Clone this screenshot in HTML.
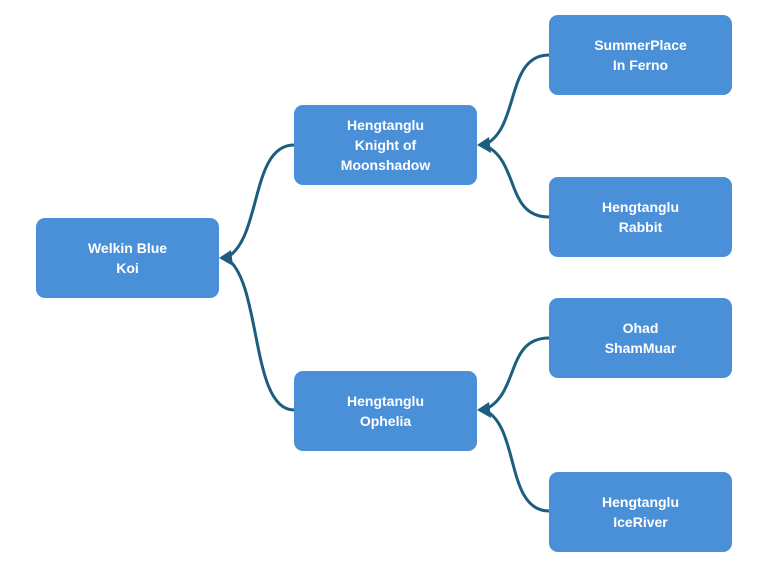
<!DOCTYPE html>
<html><head><meta charset="utf-8"><style>
body{margin:0;width:768px;height:564px;background:#fff;overflow:hidden;position:relative;font-family:"Liberation Sans",sans-serif}
.n{position:absolute;width:183px;height:80px;background:#4a90d9;border-radius:9px;color:#fff;font-weight:bold;font-size:14px;line-height:20px;display:flex;align-items:center;justify-content:center;text-align:center}
svg{position:absolute;left:0;top:0}
</style></head><body>
<svg width="768" height="564">
<g fill="none" stroke="#1d5e7e" stroke-width="3">
<path d="M294,145 C250,145 262,240 226,258"/>
<path d="M294,410 C250,410 262,280 226,258"/>
<path d="M549,55 C505,55 520,130 484,145"/>
<path d="M549,217 C505,217 520,160 484,145"/>
<path d="M549,338 C505,338 520,395 484,410"/>
<path d="M549,511 C505,511 520,425 484,410"/>
</g>
<g fill="#1d5e7e">
<polygon points="219,258 231,250 233,266"/>
<polygon points="477,145 489,137 491,153"/>
<polygon points="477,410 489,402 491,418"/>
</g>
</svg>
<div class="n" style="left:36px;top:218px">Welkin Blue<br>Koi</div>
<div class="n" style="left:294px;top:105px">Hengtanglu<br>Knight of<br>Moonshadow</div>
<div class="n" style="left:294px;top:371px">Hengtanglu<br>Ophelia</div>
<div class="n" style="left:549px;top:15px">SummerPlace<br>In Ferno</div>
<div class="n" style="left:549px;top:177px">Hengtanglu<br>Rabbit</div>
<div class="n" style="left:549px;top:298px">Ohad<br>ShamMuar</div>
<div class="n" style="left:549px;top:472px">Hengtanglu<br>IceRiver</div>
</body></html>
